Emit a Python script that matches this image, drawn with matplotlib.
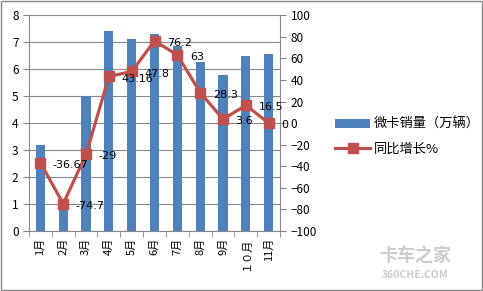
import numpy as np
import matplotlib.pyplot as plt

plt.rcParams['font.family'] = ['Noto Sans CJK SC', 'DejaVu Sans']

months = ["1月", "2月", "3月", "4月", "5月", "6月", "7月", "8月", "9月", "１０月", "11月"]
sales = [3.2, 0.95, 5.0, 7.4, 7.1, 7.3, 6.85, 6.25, 5.8, 6.5, 6.55]
growth = [-36.67, -74.7, -29, 43.16, 47.8, 76.2, 63, 28.3, 3.6, 16.5, 0]
growth_labels = ["-36.67", "-74.7", "-29", "43.16", "47.8", "76.2", "63", "28.3", "3.6", "16.5", "0"]

bar_color = "#4F81BD"
line_color = "#C0504D"

fig = plt.figure(figsize=(4.83, 2.91), dpi=100)
fig.patch.set_facecolor("white")
# outer border
fig.add_artist(plt.Rectangle((0.002, 0.003), 0.995, 0.994, transform=fig.transFigure,
                             fill=False, edgecolor="#888888", linewidth=1))

ax = fig.add_axes([0.060, 0.206, 0.520, 0.742])
x = np.arange(len(months))
ax.bar(x, sales, width=0.4, color=bar_color, zorder=2, label="微卡销量（万辆）")
ax.set_xlim(-0.5, len(months) - 0.5)
ax.set_ylim(0, 8)
ax.set_yticks(range(0, 9))
ax.yaxis.grid(True, color="#888888", linewidth=0.8, zorder=0)
ax.set_axisbelow(True)
ax.spines["top"].set_visible(False)
ax.spines["right"].set_visible(False)
ax.spines["left"].set_color("#888888")
ax.spines["bottom"].set_color("#888888")
ax.set_xticks(x)
ax.set_xticklabels(months, rotation=90, fontsize=8)
ax.tick_params(axis="x", length=0, pad=5)
ax.set_xticks(np.arange(-0.5, len(months)), minor=True)
ax.tick_params(axis="x", which="minor", length=4, color="#888888")
ax.tick_params(axis="y", length=4, color="#888888", labelsize=8.5, direction="out")

ax2 = ax.twinx()
ax2.set_ylim(-100, 100)
ax2.set_yticks(range(-100, 101, 20))
ax2.plot(x, growth, color=line_color, linewidth=2.3, marker="s", markersize=6.5,
         zorder=3, label="同比增长%")
for s in ["top", "left", "bottom"]:
    ax2.spines[s].set_visible(False)
ax2.spines["right"].set_color("#888888")
ax2.tick_params(axis="y", length=4, color="#888888", labelsize=8.5)
for xi, yi, lab in zip(x, growth, growth_labels):
    ax2.annotate(lab, (xi, yi), xytext=(9, -1.5), textcoords="offset points",
                 fontsize=8, va="center", ha="left", family="DejaVu Sans")

h1, l1 = ax.get_legend_handles_labels()
h2, l2 = ax2.get_legend_handles_labels()
fig.legend(h1 + h2, l1 + l2, loc="center left", bbox_to_anchor=(0.67, 0.53),
           frameon=False, fontsize=9.5, handlelength=2.6, labelspacing=0.9,
           handletextpad=0.3)

fig.text(0.86, 0.10, "卡车之家", fontsize=13, color="#cccccc", ha="center", weight="bold")
fig.text(0.86, 0.045, "360CHE.COM", fontsize=7.5, color="#cccccc", ha="center", weight="bold")

fig.savefig("out.png", dpi=100)
